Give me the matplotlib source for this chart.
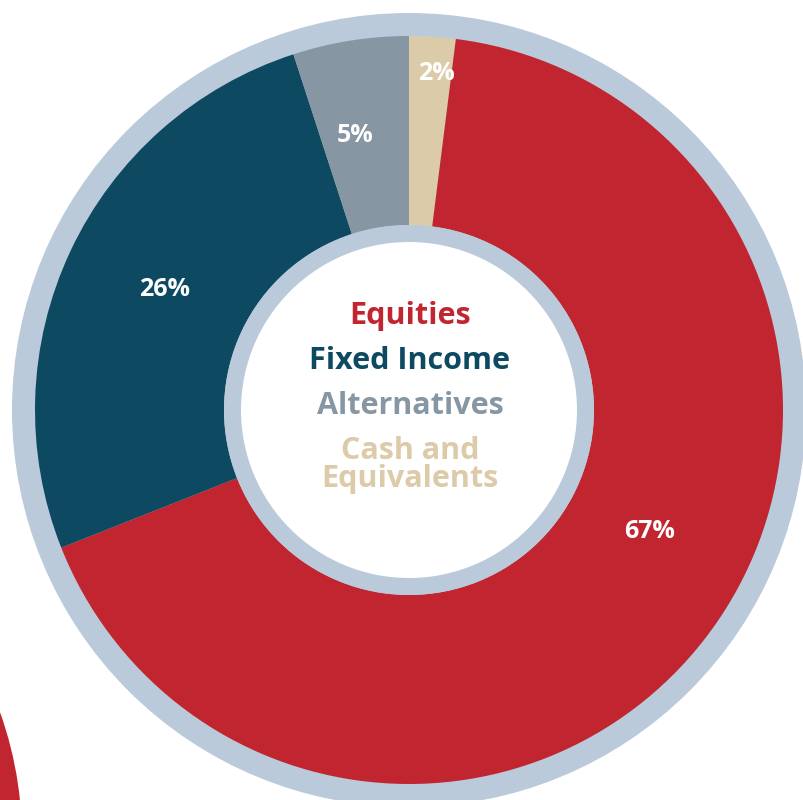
import numpy as np
import matplotlib.pyplot as plt
from matplotlib.patches import Circle

# data, clockwise from 12 o'clock
labels = ['Cash and\nEquivalents', 'Equities', 'Fixed Income', 'Alternatives']
values = [2, 67, 26, 5]
colors = ['#DCCBA9', '#C1252F', '#0D4A62', '#8796A3']
pct_text = ['2%', '67%', '26%', '5%']

legend_order = ['Equities', 'Fixed Income', 'Alternatives', 'Cash and\nEquivalents']
legend_colors = ['#C1252F', '#0D4A62', '#8796A3', '#DCCBA9']

ring = '#BACADA'
H = 800
cx, cy = 409, H - 410

fig = plt.figure(figsize=(8.04, 8), dpi=100)
ax = fig.add_axes([0, 0, 1, 1])

# piece of neighbour chart at bottom left
ax.add_patch(Circle((-355, H - 839), 377, color='#C1252F', lw=0))

# outer grey ring
ax.add_patch(Circle((cx, cy), 397, color=ring, lw=0))

wedges, _ = ax.pie(values, colors=colors, radius=374, center=(cx, cy),
                   startangle=90, counterclock=False,
                   wedgeprops=dict(width=374 - 185, linewidth=0), frame=True)
ax.set_xlim(0, 804)
ax.set_ylim(0, H)
ax.set_aspect('equal')
ax.axis('off')

# inner grey ring + white hole
ax.add_patch(Circle((cx, cy), 185, color=ring, lw=0, zorder=3))
ax.add_patch(Circle((cx, cy), 168, color='white', lw=0, zorder=4))

# percentage labels (angle offset from wedge middle, radius)
label_pos = [(-1, 338), (11, 270), (-1, 273), (2, 280)]
for w, t, (da, r) in zip(wedges, pct_text, label_pos):
    a = np.deg2rad((w.theta1 + w.theta2) / 2 + da)
    ax.text(cx + r * np.cos(a), cy + r * np.sin(a), t, color='white',
            fontsize=18, fontweight='bold', family='Open Sans',
            ha='center', va='center', zorder=5)

# centre legend text
ys = [316, 361, 406, 465]
for t, c, y in zip(legend_order, legend_colors, ys):
    ax.text(cx + 1, H - y, t, color=c, fontsize=22, fontweight='bold',
            family='Open Sans', ha='center', va='center',
            linespacing=0.95, zorder=5)

fig.savefig('out.png', dpi=100)
